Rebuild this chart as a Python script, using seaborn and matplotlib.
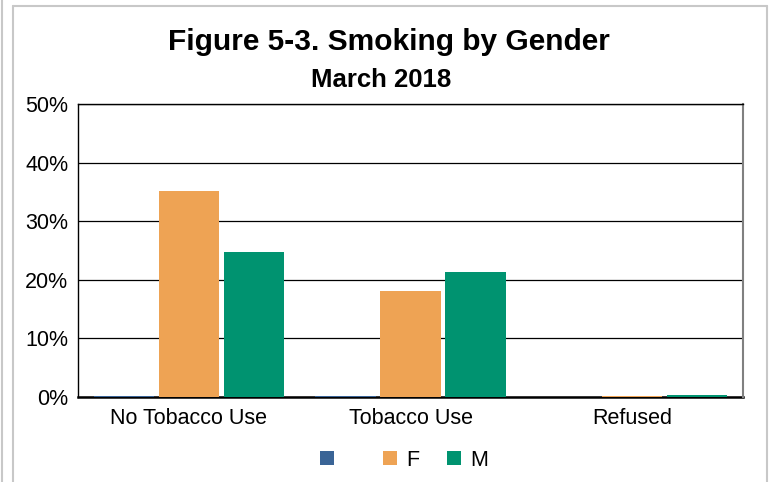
import pandas as pd
import numpy as np
import matplotlib
matplotlib.use("Agg")
import matplotlib.pyplot as plt
import seaborn as sns
from matplotlib.patches import Rectangle
from matplotlib.lines import Line2D

categories = ["No Tobacco Use", "Tobacco Use", "Refused"]
series_names = ["  ", "F", "M"]
blank_vals = [0.2, 0.2, 0.0]
female_vals = [35.2, 18.1, 0.1]
male_vals = [24.7, 21.3, 0.3]
y_ticks = [0, 10, 20, 30, 40, 50]

colors = ["#3A6496", "#EEA354", "#009370"]

rows = []
for name, vals in zip(series_names, [blank_vals, female_vals, male_vals]):
    for cat, v in zip(categories, vals):
        rows.append({"Category": cat, "Gender": name, "Pct": v})
df = pd.DataFrame(rows)

sns.set_theme(style="white")
plt.rcParams['font.family'] = ['Liberation Sans', 'DejaVu Sans']
plt.rcParams['text.color'] = 'black'
plt.rcParams['xtick.color'] = 'black'
plt.rcParams['ytick.color'] = 'black'

fig = plt.figure(figsize=(7.73, 4.82), dpi=100)
ax = fig.add_axes([0.1009, 0.1763, 0.8603, 0.6079])

sns.barplot(data=df, x="Category", y="Pct", hue="Gender", hue_order=series_names,
            palette=colors, width=0.88, gap=0.075, saturation=1, linewidth=0,
            ax=ax, legend=False, zorder=3)

ax.set_ylim(0, 50)
ax.set_xlim(-0.5, 2.5)
ax.set_yticks(y_ticks)
ax.set_yticklabels([f"{t}%" for t in y_ticks], fontsize=15.5)
ax.set_xticklabels(categories, fontsize=15.5)
ax.tick_params(axis="y", length=0, pad=7)
ax.tick_params(axis="x", length=0, pad=8)
ax.set_xlabel("")
ax.set_ylabel("")
ax.yaxis.grid(True, color="black", linewidth=0.9)
ax.set_axisbelow(True)

for side in ["left", "top"]:
    ax.spines[side].set_color("black")
    ax.spines[side].set_linewidth(1.0)
ax.spines["right"].set_color("#808080")
ax.spines["right"].set_linewidth(1.5)
ax.spines["bottom"].set_color("black")
ax.spines["bottom"].set_linewidth(1.8)
ax.spines["bottom"].set_zorder(1)

fig.text(0.503, 0.912, "Figure 5-3. Smoking by Gender", ha="center", va="center",
         fontsize=21.5, fontweight="bold")
fig.text(0.493, 0.834, "March 2018", ha="center", va="center",
         fontsize=18.5, fontweight="bold")

handles = [Rectangle((0, 0), 1, 1, facecolor=c, edgecolor="none") for c in colors]
fig.legend(handles, series_names, loc="center", bbox_to_anchor=(0.523, 0.045),
           ncol=3, frameon=False, fontsize=15.5, handlelength=0.65, handleheight=0.65,
           handletextpad=0.45, columnspacing=1.25)

# page frame
fig.add_artist(Line2D([13 / 773, 13 / 773], [0, 1 - 6 / 482], color="#C8C8C8", lw=1.5,
                      transform=fig.transFigure))
fig.add_artist(Line2D([13 / 773, 767 / 773], [1 - 6 / 482, 1 - 6 / 482], color="#C8C8C8",
                      lw=1.5, transform=fig.transFigure))
fig.add_artist(Line2D([767 / 773, 767 / 773], [0, 1 - 6 / 482], color="#C8C8C8", lw=1.5,
                      transform=fig.transFigure))
fig.add_artist(Line2D([2 / 773, 2 / 773], [0, 1], color="#C8C8C8", lw=1.5,
                      transform=fig.transFigure))

fig.savefig("out.png", dpi=100)
